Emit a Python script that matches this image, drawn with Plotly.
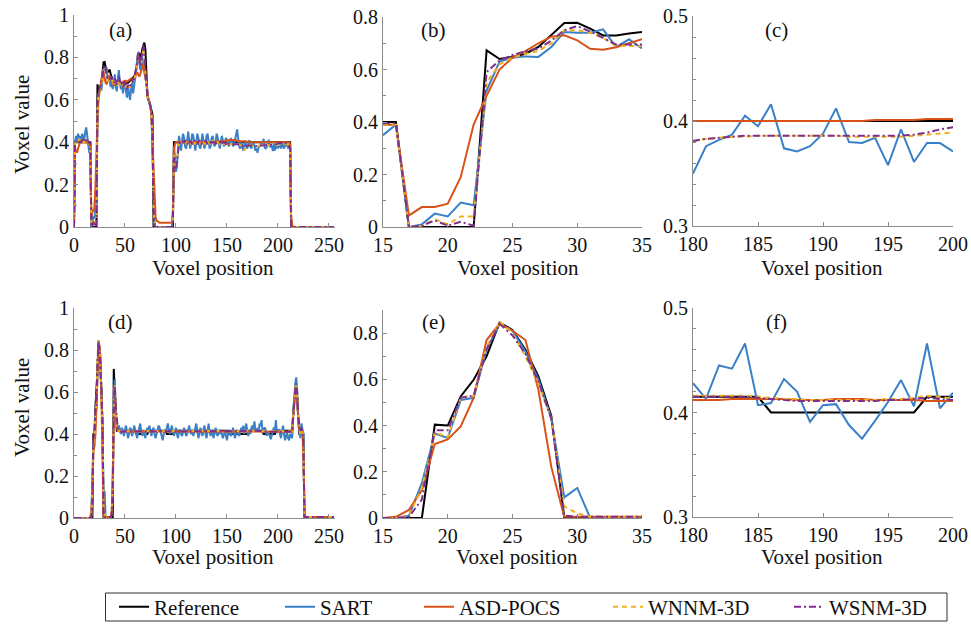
import plotly.graph_objects as go

# ---------------- data: top-row profile (panels a, b, c) ----------------
POSITIONS = list(range(256))

REF_1 = [
    0,
    .4, .4, .4, .4, .4, .4, .4, .4, .4, .4, .4, .4, .4, .4, .4, .4,
    0, 0, 0, 0, 0, 0,
    .673, .640, .648, .660, .686, .730, .777, .778, .756, .730, .730, .737, .743,
    .720, .700, .690, .685, .680, .680, .675, .680, .685, .680, .675, .680, .680, .685, .680, .675, .680, .680, .685, .690,
    .690, .700, .700, .710, .720, .740, .770, .800, .820, .800, .810, .840, .860, .870, .840, .700, .620, .600, .590, .570, .550, .530,
    0, 0, 0, 0, 0, 0, 0, 0, 0, 0, 0, 0, 0, 0, 0, 0, 0, 0, 0, 0,
    .4, .4, .4, .4, .4, .4, .4, .4, .4, .4,
    .4, .4, .4, .4, .4, .4, .4, .4, .4, .4,
    .4, .4, .4, .4, .4, .4, .4, .4, .4, .4,
    .4, .4, .4, .4, .4, .4, .4, .4, .4, .4,
    .4, .4, .4, .4, .4, .4, .4, .4, .4, .4,
    .4, .4, .405, .41, .41, .41, .405, .4, .4, .4,
    .4, .4, .4, .4, .4, .4, .4, .4, .4, .4,
    .4, .4, .4, .4, .4, .4, .4, .4, .4, .4,
    .4, .4, .4, .4, .4, .4, .4, .4, .4, .4,
    .4, .4, .4, .4, .4, .4, .4, .4, .4, .4,
    .4, .4, .4, .4, .4, .4, .4, .4, .4, .4,
    .4, .4, .4, .4, .4,
    0, 0, 0, 0, 0, 0, 0, 0, 0, 0,
    0, 0, 0, 0, 0, 0, 0, 0, 0, 0,
    0, 0, 0, 0, 0, 0, 0, 0, 0, 0,
    0, 0, 0, 0, 0, 0, 0, 0, 0, 0,
    0, 0, 0,
]

SART_1 = [
    0,
    .40, .43, .41, .44, .42, .43, .40, .44, .42, .41, .45, .47, .43, .40, .35, .39,
    0, .01, .051, .04, .093, .083,
    .52, .63, .645, .65, .648, .686, .743, .74, .74, .753, .685, .715, .68,
    .66, .70, .65, .68, .72, .66, .64, .70, .74, .68, .65, .67, .63, .66, .69, .64, .61, .66, .63, .60,
    .65, .68, .63, .66, .70, .74, .78, .82, .78, .74, .77, .80, .76, .72, .70, .68, .62, .60, .58, .57, .52, .35,
    .06, .01, 0, 0, 0, 0, 0, 0, 0, 0, 0, 0, 0, 0, 0, 0, 0, 0, 0, .08,
    .38, .33, .26, .29, .38,
    .43, .40, .36, .41, .44, .42, .38, .37, .42, .45,
    .41, .37, .40, .44, .43, .39, .36, .40, .44, .42,
    .38, .37, .41, .44, .40, .37, .39, .43, .44, .40,
    .37, .38, .42, .43, .39, .38, .41, .44, .42, .39,
    .37, .40, .43, .41, .38, .40, .42, .41, .39, .38,
    .40, .42, .40, .38, .39, .41, .43, .46, .42, .38,
    .37, .40, .38, .36, .39, .40, .38, .37, .39, .41,
    .38, .37, .39, .40, .38, .36, .37,
    .350, .376, .382, .387, .405, .395, .416, .374, .371, .376, .388,
    .412, .380, .379, .384, .358, .392, .361, .379, .379, .371,
    .38, .39, .37, .40, .38, .37, .39, .38, .40, .37, .38, .38,
    0, 0, 0, 0, 0, 0, 0, 0, 0, 0,
    0, 0, 0, 0, 0, 0, 0, 0, 0, 0,
    0, 0, 0, 0, 0, 0, 0, 0, 0, 0,
    0, 0, 0, 0, 0, 0, 0, 0, 0, 0,
    0, 0, 0,
]

ASD_1 = [
    0,
    .37, .36, .35, .37, .39, .40, .41, .40, .40, .40, .40, .40, .40, .39, .39, .39,
    .044, .076, .076, .089, .19, .39,
    .50, .60, .645, .67, .70, .725, .73, .711, .679, .675, .685, .70, .715,
    .70, .68, .675, .67, .67, .675, .68, .68, .685, .685, .68, .68, .685, .685, .69, .69, .685, .69, .695, .70,
    .70, .70, .70, .70, .71, .72, .73, .72, .71, .72, .74, .76, .77, .75, .71, .66, .62, .60, .59, .57, .52, .40,
    .25, .12, .05, .03, .025, .022, .02, .02, .02, .02, .02, .02, .02, .02, .02, .02, .02, .02, .02, .06,
    .36, .39, .40,
    .40, .40, .40, .40, .40, .40, .40, .40, .40, .40,
    .40, .40, .40, .40, .40, .40, .40, .40, .40, .40,
    .40, .40, .40, .40, .40, .40, .40, .40, .40, .40,
    .40, .40, .40, .40, .40, .40, .40, .40, .40,
    .405, .405, .405, .405, .405, .405, .405, .405, .405, .405,
    .41, .41, .41, .41, .41, .41, .41, .41, .41, .41,
    .405, .405, .405, .405, .405, .405, .405, .405, .405, .405,
    .40, .40, .40, .40, .40, .40, .40, .40, .40, .40,
    .40, .40, .40, .40, .40, .40, .40, .40, .40, .40,
    .40, .40, .40, .40,
    .401, .401, .401, .401,
    .402, .402, .402, .402, .402, .402, .402, .402,
    .40, .40, .40, .40, .40, .40,
    .39,
    .05, .01,
    0, 0, 0, 0, 0, 0, 0, 0, 0, 0,
    0, 0, 0, 0, 0, 0, 0, 0, 0, 0,
    0, 0, 0, 0, 0, 0, 0, 0, 0, 0,
    0, 0, 0, 0, 0, 0, 0, 0, 0, 0,
    0,
]

WNNM_1 = [
    0,
    .39, .40, .41, .40, .41, .41, .40, .41, .40, .40, .41, .42, .41, .40, .39, .39,
    0, .005, .03, .01, .04, .04,
    .55, .62, .645, .66, .67, .70, .75, .75, .74, .72, .69, .69, .69,
    .69, .70, .68, .67, .69, .68, .66, .68, .70, .68, .66, .67, .66, .67, .68, .66, .65, .67, .66, .66,
    .67, .69, .68, .69, .71, .74, .77, .81, .79, .76, .78, .82, .84, .80, .72, .66, .61, .60, .59, .57, .54, .40,
    .08, .01, 0, 0, 0, 0, 0, 0, 0, 0, 0, 0, 0, 0, 0, 0, 0, 0, 0, .04,
    .34, .30, .28, .32, .37, .39,
    .40, .41, .40, .40, .41, .40, .39, .40, .41, .40,
    .40, .39, .40, .41, .40, .39, .40, .40, .41, .40,
    .39, .40, .40, .40, .39, .40, .41, .40, .40, .39,
    .40, .40, .41, .40, .39, .40, .40, .40, .40, .39,
    .40, .40, .40, .39, .39, .40, .40, .39, .39, .39,
    .39, .39, .39, .39, .39, .39, .39, .39, .39, .385,
    .385, .38, .37, .36, .37, .38, .385, .385, .385, .385,
    .385, .385, .385, .383, .382, .381,
    .381, .383, .384, .385, .385, .386, .386, .386, .386, .386, .386,
    .386, .385, .385, .385, .385, .385, .386, .387, .388, .389,
    .39, .39, .39, .39, .39, .39, .39, .39, .39, .39, .38, .37,
    0, 0, 0, 0, 0, 0, 0, 0, 0, 0,
    0, 0, 0, 0, 0, 0, 0, 0, 0, 0,
    0, 0, 0, 0, 0, 0, 0, 0, 0, 0,
    0, 0, 0, 0, 0, 0, 0, 0, 0, 0,
    0, 0, 0,
]

WSNM_1 = [
    0,
    .39, .40, .41, .41, .41, .40, .40, .41, .41, .40, .41, .42, .41, .40, .395, .395,
    0, .005, .025, .005, .02, .005,
    .59, .635, .655, .67, .68, .71, .75, .765, .745, .72, .695, .695, .695,
    .70, .71, .69, .68, .70, .69, .67, .69, .71, .69, .67, .68, .66, .67, .69, .67, .65, .67, .66, .66,
    .68, .70, .68, .70, .72, .75, .79, .83, .80, .76, .79, .83, .86, .82, .73, .66, .61, .60, .59, .57, .54, .42,
    .08, .01, 0, 0, 0, 0, 0, 0, 0, 0, 0, 0, 0, 0, 0, 0, 0, 0, 0, .03,
    .33, .29, .27, .31, .36, .39,
    .40, .40, .41, .40, .40, .41, .40, .39, .40, .41,
    .40, .40, .39, .40, .41, .40, .40, .39, .40, .41,
    .40, .39, .40, .40, .40, .41, .40, .39, .40, .40,
    .40, .41, .40, .40, .40, .39, .40, .40, .40, .40,
    .40, .39, .40, .40, .40, .39, .39, .40, .39, .39,
    .39, .39, .39, .39, .39, .39, .39, .39, .39, .39,
    .385, .385, .38, .375, .38, .385, .385, .385, .385, .385,
    .385, .385, .384, .383, .382, .381,
    .381, .383, .384, .385, .386, .386, .386, .386, .386, .386, .386,
    .386, .386, .386, .386, .386, .386, .387, .389, .392, .394,
    .395, .396, .396, .396, .396, .395, .395, .395, .395, .39, .38, .37,
    0, 0, 0, 0, 0, 0, 0, 0, 0, 0,
    0, 0, 0, 0, 0, 0, 0, 0, 0, 0,
    0, 0, 0, 0, 0, 0, 0, 0, 0, 0,
    0, 0, 0, 0, 0, 0, 0, 0, 0, 0,
    0, 0, 0,
]

# ---------------- data: bottom-row profile (panels d, e, f) ----------------
REF_2 = [
    0, 0, 0, 0, 0, 0, 0, 0, 0, 0, 0, 0, 0, 0, 0, 0, 0, 0, 0,
    .404, .40, .526, .598, .70, .845, .814, .728, .613, .44,
    0, 0, 0, 0, 0, 0, 0, 0, 0, 0,
    .71, .60, .45,
    .415, .415, .415, .415, .415, .415, .415, .415, .415, .415,
    .415, .415, .415, .415, .415, .415, .415, .415, .415,
    .40, .40, .40, .40, .40, .40, .40, .40, .40, .40, .40, .40,
    .415, .415, .415, .415, .415, .415, .415, .415, .415, .415,
    .415, .415, .415, .415, .415, .415, .415, .415,
    .40, .40, .40, .40, .40, .40, .40, .40,
    .415, .415, .415, .415, .415, .415, .415, .415, .415, .415,
    .415, .415, .415, .415, .415, .415, .415, .415, .415, .415,
    .415, .415, .415, .415, .415, .415, .415, .415, .415, .415,
    .415, .415, .415, .415, .415, .415, .415, .415, .415, .415,
    .415, .415, .415, .415, .415, .415, .415, .415, .415, .415,
    .415, .415,
    .40, .40, .40, .40, .40, .40, .40, .40, .40, .40,
    .40, .40, .40, .40, .40, .40, .40, .40, .40, .40,
    .415, .415, .415, .415, .415, .415, .415, .415, .415, .415,
    .415, .415, .415, .415, .415,
    .40, .40, .40, .40, .40, .40, .40, .40, .40, .40, .40, .40,
    .415, .415, .415, .415, .415, .415, .415, .415, .415, .415,
    .415, .415, .415, .415, .415, .415, .415,
    .50, .56, .61, .63, .56, .45, .40, .40, .40, .40, .40,
    0, 0, 0, 0, 0, 0, 0, 0, 0, 0,
    0, 0, 0, 0, 0, 0, 0, 0, 0, 0,
    0, 0, 0, 0, 0, 0, 0, 0, 0, 0,
]

SART_2 = [
    0, 0, 0, 0, 0, 0, 0, 0, 0, 0, 0, 0, 0, 0, 0, 0, 0,
    .01, .151, .365, .346, .51, .52, .73, .84, .81, .72, .60, .43, .089, .13,
    0, 0, 0, 0, 0, 0,
    .02, .15, .55, .66, .50, .44, .43,
    .44, .42, .40, .43, .41, .39, .42, .44, .41, .38,
    .40, .43, .42, .39, .41, .44, .42, .40, .38, .41,
    .43, .45, .41, .39, .42, .40, .38, .41, .43, .42,
    .44, .41, .39, .42, .43, .40, .38, .40, .42, .44,
    .43, .41, .39, .37, .40, .42, .41, .43, .45, .42,
    .40, .42, .44, .41, .39, .41, .43, .40, .38, .41,
    .42, .40, .39, .41, .43, .41, .39, .40, .42, .44,
    .41, .40, .42, .39, .41, .43, .45, .41, .38, .40,
    .43, .41, .39, .42, .44, .40, .38, .41, .45, .41,
    .39, .42, .40, .38, .41, .43, .40, .39, .41, .40,
    .42, .39, .38, .40, .41, .39, .37, .40, .42, .40,
    .39, .41, .43, .40, .38, .41, .42, .40, .39, .41,
    .43, .41, .44, .40, .42, .45, .41, .39, .42, .40,
    .43, .44, .42, .46, .41, .42,
    .428, .413, .445, .442, .466, .407, .409, .432, .420, .391, .407,
    .408, .388, .375, .392, .410, .431, .406, .466, .404, .419,
    .42, .40, .38, .41, .44, .40, .37, .39, .41, .38, .37, .40, .39, .38,
    .50, .58, .64, .67, .60, .45, .40, .38, .45, .42, .40,
    0, 0, 0, 0, 0, 0, 0, 0, 0, 0,
    0, 0, 0, 0, 0, 0, 0, 0, 0, 0,
    0, 0, 0, 0, 0, 0, 0, 0, 0, 0,
]

ASD_2 = [
    0, 0, 0, 0, 0, 0, 0, 0, 0, 0, 0, 0, 0, 0, 0, 0,
    .005, .035, .12, .32, .34, .396, .52, .77, .84, .81, .77, .555, .22, .005, .005,
    .005, .005, .005, .005, .005, .005,
    .03, .20, .50, .60, .50, .43, .415,
    .412, .413, .412, .411, .412, .413, .414, .413, .412, .411,
    .412, .412, .413, .412, .411, .412, .413, .413, .412, .412,
    .411, .412, .413, .414, .413, .412, .411, .412, .412, .413,
    .412, .412, .411, .412, .413, .412, .412, .411, .412, .413,
    .414, .413, .412, .411, .412, .412, .413, .412, .411, .412,
    .413, .413, .412, .412, .411, .412, .413, .414, .413, .412,
    .411, .412, .412, .413, .412, .411, .412, .413, .413, .412,
    .412, .411, .412, .413, .414, .413, .412, .411, .412, .412,
    .413, .412, .411, .412, .413, .413, .412, .412, .411, .412,
    .413, .414, .413, .412, .411, .412, .412, .413, .412, .411,
    .412, .413, .413, .412, .412, .411, .412, .413, .414, .413,
    .412, .411, .412, .412, .413, .412, .411, .412, .413, .413,
    .412, .412, .411, .412, .413, .414, .413, .412, .411, .412,
    .412, .413, .412, .411, .412, .412,
    .412, .412, .412, .413, .413, .413, .413, .413, .412, .412, .412,
    .413, .413, .413, .412, .412, .412, .412, .411, .411, .411,
    .411, .411, .411, .411, .411, .411, .411, .411, .411, .411, .411, .411, .411, .411,
    .48, .55, .60, .62, .57, .47, .42, .41, .41, .40, .30,
    .05, .005, .005, .005, .005, .005, .005, .005, .005, .005,
    .005, .005, .005, .005, .005, .005, .005, .005, .005, .005,
    .005, .005, .005, .005, .005, .005, .005, .005, .005, .005,
]

WNNM_2 = [
    0, 0, 0, 0, 0, 0, 0, 0, 0, 0, 0, 0, 0, 0, 0, 0,
    0, .01, .13, .37, .35, .52, .53, .74, .85, .80, .70, .58, .43, .05, .02,
    .005, .005, .005, .005, .005, .005,
    .02, .15, .52, .64, .52, .44, .42,
    .413, .414, .413, .412, .413, .414, .415, .414, .413, .412,
    .413, .413, .414, .413, .412, .413, .414, .414, .413, .413,
    .412, .413, .414, .415, .414, .413, .412, .413, .413, .414,
    .413, .413, .412, .413, .414, .413, .413, .412, .413, .414,
    .415, .414, .413, .412, .413, .413, .414, .413, .412, .413,
    .414, .414, .413, .413, .412, .413, .414, .415, .414, .413,
    .412, .413, .413, .414, .413, .412, .413, .414, .414, .413,
    .413, .412, .413, .414, .415, .414, .413, .412, .413, .413,
    .414, .413, .412, .413, .414, .414, .413, .413, .412, .413,
    .414, .415, .414, .413, .412, .413, .413, .414, .413, .412,
    .413, .414, .414, .413, .413, .412, .413, .414, .415, .414,
    .413, .412, .413, .413, .414, .413, .412, .413, .414, .414,
    .413, .413, .412, .413, .414, .415, .414, .413, .412, .413,
    .413, .414, .415, .416, .416, .416,
    .416, .416, .416, .416, .416, .415, .414, .413, .413, .412, .412,
    .412, .412, .412, .412, .413, .413, .414, .416, .415, .413,
    .413, .413, .414, .414, .413, .413, .412, .413, .414, .414, .413, .413, .412, .412,
    .49, .57, .62, .64, .58, .47, .42, .40, .42, .41, .38,
    .02, .005, .005, .005, .005, .005, .005, .005, .005, .005,
    .005, .005, .005, .005, .005, .005, .005, .005, .005, .005,
    .005, .005, .005, .005, .005, .005, .005, .005, .005, .005,
]

WSNM_2 = [
    0, 0, 0, 0, 0, 0, 0, 0, 0, 0, 0, 0, 0, 0, 0, 0,
    0, .005, .08, .38, .38, .52, .53, .73, .84, .79, .71, .59, .43, .01, .005,
    .005, .005, .005, .005, .005, .005,
    .02, .14, .50, .63, .53, .45, .42,
    .412, .413, .412, .411, .412, .413, .414, .413, .412, .411,
    .412, .412, .413, .412, .411, .412, .413, .413, .412, .412,
    .411, .412, .413, .414, .413, .412, .411, .412, .412, .413,
    .412, .412, .411, .412, .413, .412, .412, .411, .412, .413,
    .414, .413, .412, .411, .412, .412, .413, .412, .411, .412,
    .413, .413, .412, .412, .411, .412, .413, .414, .413, .412,
    .411, .412, .412, .413, .412, .411, .412, .413, .413, .412,
    .412, .411, .412, .413, .414, .413, .412, .411, .412, .412,
    .413, .412, .411, .412, .413, .413, .412, .412, .411, .412,
    .413, .414, .413, .412, .411, .412, .412, .413, .412, .411,
    .412, .413, .413, .412, .412, .411, .412, .413, .414, .413,
    .412, .411, .412, .412, .413, .412, .411, .412, .413, .413,
    .412, .412, .411, .412, .413, .414, .413, .412, .411, .412,
    .412, .413, .414, .415, .415, .415,
    .415, .415, .415, .415, .415, .414, .413, .412, .411, .411, .411,
    .411, .411, .411, .411, .412, .412, .413, .414, .413, .412,
    .412, .412, .413, .413, .412, .412, .411, .412, .413, .413, .412, .412, .411, .411,
    .48, .56, .61, .64, .59, .48, .43, .41, .43, .41, .37,
    .01, .005, .005, .005, .005, .005, .005, .005, .005, .005,
    .005, .005, .005, .005, .005, .005, .005, .005, .005, .005,
    .005, .005, .005, .005, .005, .005, .005, .005, .005, .005,
]

SERIES = ["Reference", "SART", "ASD-POCS", "WNNM-3D", "WSNM-3D"]
TOP_PROFILE = [REF_1, SART_1, ASD_1, WNNM_1, WSNM_1]
BOTTOM_PROFILE = [REF_2, SART_2, ASD_2, WNNM_2, WSNM_2]

for arr in TOP_PROFILE + BOTTOM_PROFILE:
    assert len(arr) == 256, len(arr)

X_TICKS_FULL = [0, 50, 100, 150, 200, 250]
X_TICKS_EDGE = [15, 20, 25, 30, 35]
X_TICKS_FLAT = [180, 185, 190, 195, 200]

# ---------------- styling ----------------
COLORS = ["#000000", "#3a80c8", "#d95319", "#edb120", "#7e2f8e"]
DASHES = ["solid", "solid", "solid", "5px,4px", "7px,3px,2px,3px"]
LEGEND_WIDTHS = [121, 94, 144, 136, 108]
FONT = "Liberation Serif, Times New Roman, DejaVu Serif, serif"
AXIS_GREY = "#8c8c8c"

W, H = 971, 624


def fx(p):
    return p / W


def fy(p):
    return 1 - p / H


# label, profile, index window, x range, x ticks, y range, y ticks, y minor,
# x domain (px), y domain (px, top/bottom), label pos (px)
PANELS = [
    ("(a)", TOP_PROFILE, (0, 255), [0, 256], X_TICKS_FULL, [0, 1],
     [0, .2, .4, .6, .8, 1], .1, (74, 335), (15, 227), (120, 30)),
    ("(b)", TOP_PROFILE, (15, 35), [15, 35], X_TICKS_EDGE, [0, .8],
     [0, .2, .4, .6, .8], .1, (383, 642), (17, 227), (433, 30)),
    ("(c)", TOP_PROFILE, (180, 200), [180, 200], X_TICKS_FLAT, [.3, .5],
     [.3, .4, .5], .02, (693, 953), (16, 226), (776, 30)),
    ("(d)", BOTTOM_PROFILE, (0, 255), [0, 256], X_TICKS_FULL, [0, 1],
     [0, .2, .4, .6, .8, 1], .1, (74, 335), (308, 518), (120, 322)),
    ("(e)", BOTTOM_PROFILE, (15, 35), [15, 35], X_TICKS_EDGE, [0, .9],
     [0, .2, .4, .6, .8], .1, (383, 642), (310, 518), (433, 322)),
    ("(f)", BOTTOM_PROFILE, (180, 200), [180, 200], X_TICKS_FLAT, [.3, .5],
     [.3, .4, .5], .02, (693, 953), (308, 517), (776, 322)),
]

fig = go.Figure()
annotations = []

for i, (lab, prof, (lo, hi), xr, xt, yr, yt, ymin, xd, yd, lp) in enumerate(PANELS):
    n = "" if i == 0 else str(i + 1)
    xs = POSITIONS[lo:hi + 1]
    for k, name in enumerate(SERIES):
        fig.add_trace(go.Scatter(
            x=xs, y=prof[k][lo:hi + 1], mode="lines", name=name,
            line=dict(color=COLORS[k], width=2, dash=DASHES[k]),
            showlegend=(i == 0), legendwidth=LEGEND_WIDTHS[k],
            xaxis="x" + n, yaxis="y" + n,
        ))
    common = dict(
        showline=True, linecolor=AXIS_GREY, linewidth=1, mirror=False,
        showgrid=False, zeroline=False, ticks="inside", ticklen=4,
        tickcolor=AXIS_GREY, automargin=False,
        tickfont=dict(family=FONT, size=20, color="#111"),
    )
    fig.update_layout(**{
        "xaxis" + n: dict(common, range=xr, tickvals=xt,
                          domain=[fx(xd[0]), fx(xd[1])], anchor="y" + n),
        "yaxis" + n: dict(common, range=yr, tickvals=yt,
                          minor=dict(dtick=ymin, ticks="inside", ticklen=3,
                                     tickcolor=AXIS_GREY, showgrid=False),
                          domain=[fy(yd[1]), fy(yd[0])], anchor="x" + n),
    })
    annotations.append(dict(text=lab, x=fx(lp[0]), y=fy(lp[1]), xref="paper",
                            yref="paper", showarrow=False,
                            font=dict(family=FONT, size=21, color="#111"),
                            xanchor="center", yanchor="middle"))

# axis titles placed at the measured positions
for (cx, cy) in [(213, 268), (518, 268), (822, 268), (213, 557), (517, 557), (822, 557)]:
    annotations.append(dict(text="Voxel position", x=fx(cx), y=fy(cy), xref="paper",
                            yref="paper", showarrow=False,
                            font=dict(family=FONT, size=21, color="#111"),
                            xanchor="center", yanchor="middle"))
for cy in [125, 408]:
    annotations.append(dict(text="Voxel value", x=fx(22), y=fy(cy), xref="paper",
                            yref="paper", showarrow=False, textangle=-90,
                            font=dict(family=FONT, size=21, color="#111"),
                            xanchor="center", yanchor="middle"))

fig.update_layout(
    width=W, height=H, margin=dict(l=0, r=0, t=0, b=0, autoexpand=False),
    paper_bgcolor="white", plot_bgcolor="white",
    font=dict(family=FONT, size=20, color="#111"),
    annotations=annotations,
    showlegend=True,
    legend=dict(orientation="h", x=fx(114), y=fy(607), xanchor="left", yanchor="middle",
                borderwidth=0, bgcolor="rgba(0,0,0,0)",
                font=dict(family=FONT, size=21, color="#111"),
                itemwidth=30, tracegroupgap=0),
    shapes=[dict(type="rect", xref="paper", yref="paper",
                 x0=fx(105.5), x1=fx(947), y0=fy(621), y1=fy(593),
                 line=dict(color="#333", width=1), fillcolor="rgba(0,0,0,0)")],
)

# remove the browser's default page margin so the 971x624 figure fills the window
fig.write_html(
    "out.html",
    config={"displayModeBar": False},
    post_script="document.body.style.margin='0px';document.body.style.padding='0px';"
                "document.body.style.overflow='hidden';",
)
